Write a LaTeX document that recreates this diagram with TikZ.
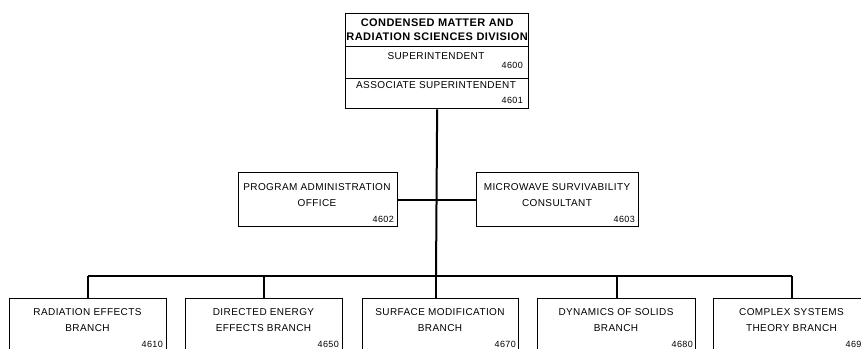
\documentclass[tikz,border=0pt]{standalone}
\usepackage{fontspec}
\setmainfont{Liberation Sans}
\newfontfamily\spacedfont[LetterSpace=4]{Liberation Sans}
\newfontfamily\titlefont[LetterSpace=4]{Liberation Sans Bold}
\newfontfamily\numfont[LetterSpace=4]{Liberation Sans}
\begin{document}
\begin{tikzpicture}[x=1pt,y=-1pt,
  box/.style={draw, line width=1.3pt, inner sep=0pt, anchor=north west},
  conn/.style={line width=2pt},
  txt/.style={font=\spacedfont\fontsize{10}{16}\selectfont, align=center, inner sep=0pt},
  num/.style={font=\numfont\fontsize{9}{9}\selectfont, inner sep=0pt, anchor=east}]
\useasboundingbox (0,0) rectangle (861,348);
\clip (0,0) rectangle (861,348);
% top box
\node[box, minimum width=183pt, minimum height=33pt, align=center,
  font=\titlefont\fontsize{11}{14}\selectfont] (title) at (345,13)
  {CONDENSED MATTER AND\\RADIATION SCIENCES DIVISION};
\node[box, minimum width=183pt, minimum height=32pt] (sup) at (345,46) {};
\node[box, minimum width=183pt, minimum height=30pt] (assoc) at (345,78) {};
\node[txt] (suptxt) at (436,56) {SUPERINTENDENT};
\node[num] (supnum) at (523,65) {4600};
\node[txt] (assoctxt) at (436,85) {ASSOCIATE SUPERINTENDENT};
\node[num] (assocnum) at (523,100) {4601};
% middle boxes
\node[box, minimum width=159pt, minimum height=54pt] (pao) at (238,172) {};
\node[txt] (paotxt) at (317,195) {PROGRAM ADMINISTRATION\\OFFICE};
\node[num] (paonum) at (394,219) {4602};
\node[box, minimum width=162pt, minimum height=54pt] (msc) at (476,172) {};
\node[txt] (msctxt) at (557,195) {MICROWAVE SURVIVABILITY\\CONSULTANT};
\node[num] (mscnum) at (635,219) {4603};
% bottom boxes
\node[box, minimum width=157pt, minimum height=70pt] (b1) at (9,298) {};
\node[txt] (b1txt) at (87.5,320) {RADIATION EFFECTS\\BRANCH};
\node[num] (b1num) at (163,344) {4610};
\node[box, minimum width=157pt, minimum height=70pt] (b2) at (185,298) {};
\node[txt] (b2txt) at (263.5,320) {DIRECTED ENERGY\\EFFECTS BRANCH};
\node[num] (b2num) at (339,344) {4650};
\node[box, minimum width=156pt, minimum height=70pt] (b3) at (362,298) {};
\node[txt] (b3txt) at (440,320) {SURFACE MODIFICATION\\BRANCH};
\node[num] (b3num) at (516,344) {4670};
\node[box, minimum width=158pt, minimum height=70pt] (b4) at (537,298) {};
\node[txt] (b4txt) at (616,320) {DYNAMICS OF SOLIDS\\BRANCH};
\node[num] (b4num) at (693,344) {4680};
\node[box, minimum width=157pt, minimum height=70pt] (b5) at (713,298) {};
\node[txt] (b5txt) at (791.5,320) {COMPLEX SYSTEMS\\THEORY BRANCH};
\node[num] (b5num) at (867,344) {4690};
% connectors
\coordinate (bus) at (436,276);
\draw[conn] (assoc.south) -- (bus);
\draw[conn] (pao.east) -- (msc.west);
\draw[conn] (b1.north |- bus) -- (b5.north |- bus);
\draw[conn] (b1.north) -- (b1.north |- bus);
\draw[conn] (b2.north) -- (b2.north |- bus);
\draw[conn] (bus) -- (bus |- b3.north);
\draw[conn] (b4.north) -- (b4.north |- bus);
\draw[conn] (b5.north) -- (b5.north |- bus);
\end{tikzpicture}
\end{document}
